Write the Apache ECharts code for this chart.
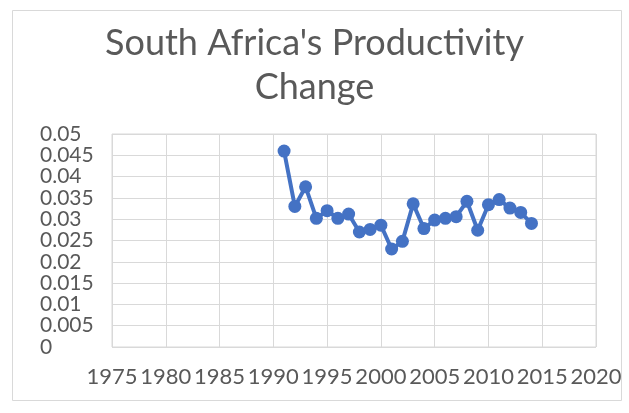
<!DOCTYPE html>
<html>
<head>
<meta charset="utf-8">
<script src="https://cdn.jsdelivr.net/npm/echarts@6/dist/echarts.min.js"></script>
<style>
  html, body { margin: 0; padding: 0; background: #fff; }
  #chart { width: 629px; height: 413px; }
</style>
</head>
<body>
<div id="chart"></div>
<script>
// Productivity change by year
const years = [1991, 1992, 1993, 1994, 1995, 1996, 1997, 1998, 1999, 2000, 2001, 2002,
               2003, 2004, 2005, 2006, 2007, 2008, 2009, 2010, 2011, 2012, 2013, 2014];
const productivity = [0.0460, 0.0330, 0.0376, 0.0302, 0.0320, 0.0302, 0.0312, 0.0270,
                      0.0276, 0.0286, 0.0230, 0.0248, 0.0336, 0.0278, 0.0298, 0.0302,
                      0.0306, 0.0342, 0.0274, 0.0334, 0.0346, 0.0326, 0.0316, 0.0290];
const titleText = "South Africa's Productivity\nChange";

const FONT = 'Lato';
const TEXT = '#595959';
const GRID = '#d9d9d9';

const chart = echarts.init(document.getElementById('chart'), null, { renderer: 'canvas' });
chart.setOption({
  animation: false,
  backgroundColor: '#fff',
  title: {
    text: titleText,
    left: 'center',
    top: 16,
    textStyle: { fontFamily: FONT, fontSize: 36, fontWeight: 'normal', color: TEXT, lineHeight: 44 }
  },
  graphic: [{
    type: 'rect',
    shape: { x: 12.5, y: 10.5, width: 609, height: 390 },
    style: { fill: 'none', stroke: GRID, lineWidth: 1 },
    silent: true
  }],
  grid: { left: 112, right: 33, top: 134, bottom: 66, show: true, borderColor: GRID, borderWidth: 1 },
  xAxis: {
    type: 'value',
    min: 1975, max: 2020, interval: 5,
    axisLine: { show: false },
    axisTick: { show: false },
    splitLine: { show: true, lineStyle: { color: GRID, width: 1 } },
    axisLabel: {
      fontFamily: FONT, fontSize: 22, color: TEXT, margin: 19,
      formatter: v => String(v)
    }
  },
  yAxis: {
    type: 'value',
    min: 0, max: 0.05, interval: 0.005,
    axisLine: { show: false },
    axisTick: { show: false },
    splitLine: { show: true, lineStyle: { color: GRID, width: 1 } },
    axisLabel: {
      fontFamily: FONT, fontSize: 21, color: TEXT, align: 'left', margin: 72,
      formatter: v => String(parseFloat(v.toFixed(4)))
    }
  },
  series: [{
    type: 'line',
    data: years.map((y, i) => [y, productivity[i]]),
    symbol: 'circle',
    symbolSize: 13,
    lineStyle: { color: '#4472c4', width: 4 },
    itemStyle: { color: '#4472c4' }
  }]
});
</script>
</body>
</html>
